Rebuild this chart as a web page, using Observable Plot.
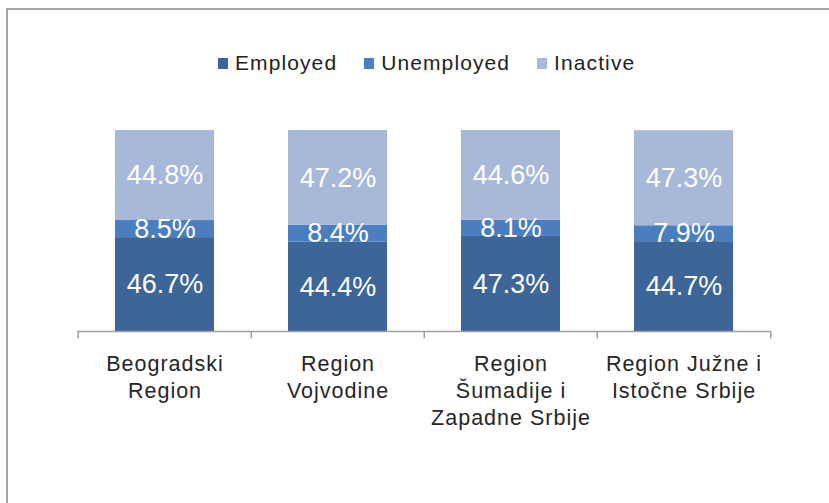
<!DOCTYPE html>
<html>
<head>
<meta charset="utf-8">
<script src="https://cdn.jsdelivr.net/npm/d3@7"></script>
<script src="https://cdn.jsdelivr.net/npm/@observablehq/plot@0.6"></script>
<style>
  html, body { margin: 0; padding: 0; background: #fff; }
  body { width: 829px; height: 503px; position: relative; overflow: hidden; font-family: "Liberation Sans", Arial, sans-serif; }
  #frame { position: absolute; left: 6px; top: 8px; width: 900px; height: 600px; border-left: 2px solid #a5a5a5; border-top: 2px solid #a5a5a5; }
  #legend { position: absolute; left: 218px; top: 51px; display: flex; align-items: center; font-size: 21px; letter-spacing: 1.1px; color: #222; }
  #legend .item { display: flex; align-items: center; margin-right: 27px; }
  #legend .sw { width: 10px; height: 11px; margin-right: 7px; }
  #chart { position: absolute; left: 0; top: 0; }
</style>
</head>
<body>
<div id="frame"></div>
<div id="legend"></div>
<div id="chart"></div>
<script>
const categories = ["Beogradski\nRegion", "Region\nVojvodine", "Region\nŠumadije i\nZapadne Srbije", "Region Južne i\nIstočne Srbije"];
const seriesNames = ["Employed", "Unemployed", "Inactive"];
const employed = [46.7, 44.4, 47.3, 44.7];
const unemployed = [8.5, 8.4, 8.1, 7.9];
const inactive = [44.8, 47.2, 44.6, 47.3];
const colors = ["#3d6598", "#4a7ebe", "#a7b8d9"];

const seriesValues = [employed, unemployed, inactive];
const data = categories.flatMap((c, i) =>
  seriesNames.map((s, j) => ({cat: c, series: s, value: seriesValues[j][i]}))
);

// legend
const legend = document.getElementById("legend");
seriesNames.forEach((s, j) => {
  const item = document.createElement("div");
  item.className = "item";
  const sw = document.createElement("span");
  sw.className = "sw";
  sw.style.background = colors[j];
  const t = document.createElement("span");
  t.textContent = s;
  item.appendChild(sw);
  item.appendChild(t);
  legend.appendChild(item);
});

const W = 829, H = 503, mL = 77, mR = 58, mT = 130, mB = 172;
const step = (W - mL - mR) / categories.length;

const plot = Plot.plot({
  width: W,
  height: H,
  marginLeft: mL,
  marginRight: mR,
  marginTop: mT,
  marginBottom: mB,
  style: {fontFamily: "Liberation Sans, Arial, sans-serif", background: "transparent"},
  x: {domain: categories, padding: 0, axis: null},
  y: {domain: [0, 100], axis: null},
  color: {domain: seriesNames, range: colors},
  marks: [
    Plot.barY(data, {x: "cat", y: "value", fill: "series", insetLeft: 37, insetRight: 37}),
    Plot.text(data, Plot.stackY({x: "cat", y: "value", z: "series", text: d => d.value.toFixed(1) + "%", fill: "white", fontSize: 27})),
    Plot.ruleY([0], {stroke: "#a0a0a0", strokeWidth: 1.5}),
    Plot.ruleX(categories, {x: d => d, dx: -step / 2, y1: 0, y2: -3.6, stroke: "#a0a0a0", strokeWidth: 1.5}),
    Plot.ruleX(categories.slice(-1), {x: d => d, dx: step / 2, y1: 0, y2: -3.6, stroke: "#a0a0a0", strokeWidth: 1.5}),
    Plot.text(categories, {x: d => d, frameAnchor: "bottom", lineAnchor: "top", dy: 20, lineHeight: 1.26, fontSize: 21.5, fill: "#262626", text: d => d})
  ]
});
d3.select(plot).selectAll("g[fill='#262626']").attr("letter-spacing", "1px");
document.getElementById("chart").appendChild(plot);
</script>
</body>
</html>
